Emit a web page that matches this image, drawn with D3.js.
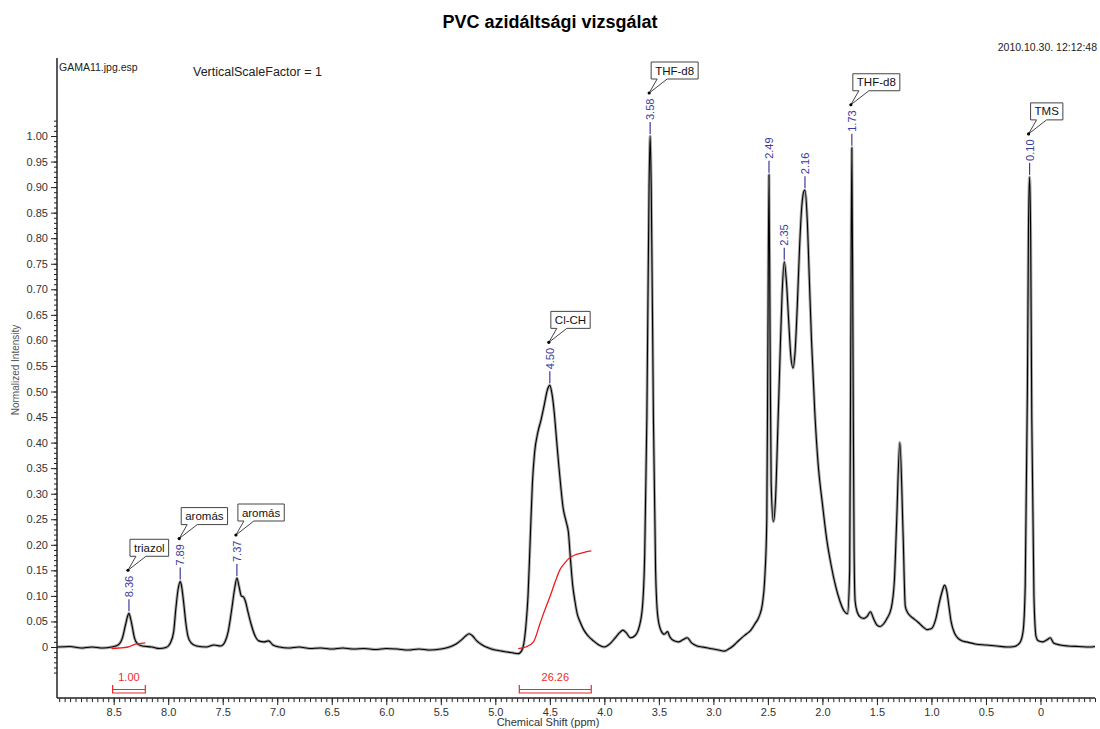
<!DOCTYPE html>
<html>
<head>
<meta charset="utf-8">
<script src="https://cdn.jsdelivr.net/npm/d3@7"></script>
<style>
body { margin: 0; background: #fff; }
svg { font-family: "Liberation Sans", Arial, sans-serif; }
</style>
</head>
<body>
<script>
const width = 1100;
const height = 729;

// spectrum (ppm, normalized intensity)
const shiftPpm = [9.02, 8.90, 8.80, 8.70, 8.60, 8.52, 8.46, 8.42, 8.39, 8.37, 8.36, 8.35, 8.33, 8.31, 8.28, 8.24, 8.15, 8.08, 8.02,
    7.98, 7.95, 7.93, 7.91, 7.89, 7.88, 7.86, 7.84, 7.82, 7.79, 7.74, 7.65, 7.58, 7.52, 7.48, 7.45, 7.42, 7.39, 7.37, 7.35, 7.33,
    7.31, 7.29, 7.27, 7.24, 7.21, 7.17, 7.12, 7.08, 7.04, 6.98, 6.90, 6.80, 6.70, 6.60, 6.50, 6.40, 6.30, 6.20, 6.10, 6.00,
    5.90, 5.80, 5.70, 5.60, 5.50, 5.42, 5.36, 5.31, 5.27, 5.24, 5.21, 5.17, 5.12, 5.06, 5.00, 4.94, 4.88, 4.83, 4.79, 4.76,
    4.74, 4.72, 4.70, 4.68, 4.66, 4.64, 4.61, 4.58, 4.55, 4.52, 4.50, 4.48, 4.46, 4.44, 4.42, 4.40, 4.38, 4.35, 4.33, 4.31,
    4.29, 4.27, 4.25, 4.22, 4.19, 4.15, 4.10, 4.05, 4.00, 3.95, 3.90, 3.86, 3.83, 3.80, 3.76, 3.72, 3.68, 3.65, 3.63, 3.61,
    3.59, 3.58, 3.57, 3.55, 3.53, 3.51, 3.48, 3.45, 3.42, 3.40, 3.36, 3.32, 3.28, 3.24, 3.20, 3.15, 3.10, 3.05, 3.00, 2.95,
    2.90, 2.86, 2.82, 2.78, 2.74, 2.70, 2.66, 2.62, 2.58, 2.55, 2.53, 2.51, 2.50, 2.49, 2.48, 2.47, 2.45, 2.43, 2.41, 2.39,
    2.37, 2.35, 2.33, 2.31, 2.29, 2.27, 2.25, 2.23, 2.21, 2.19, 2.17, 2.16, 2.14, 2.12, 2.10, 2.07, 2.04, 2.00, 1.96, 1.92,
    1.88, 1.84, 1.80, 1.77, 1.75, 1.74, 1.73, 1.72, 1.71, 1.70, 1.68, 1.65, 1.62, 1.59, 1.56, 1.53, 1.50, 1.47, 1.44, 1.41,
    1.37, 1.34, 1.32, 1.29, 1.26, 1.24, 1.22, 1.19, 1.16, 1.12, 1.08, 1.04, 1.00, 0.96, 0.93, 0.90, 0.88, 0.86, 0.84, 0.82,
    0.79, 0.76, 0.72, 0.68, 0.60, 0.50, 0.40, 0.30, 0.24, 0.19, 0.16, 0.14, 0.12, 0.11, 0.10, 0.09, 0.08, 0.06, 0.04, 0.02,
    -0.02, -0.06, -0.09, -0.12, -0.18, -0.25, -0.35, -0.45, -0.50];
const intensity = [0.000, 0.001, -0.002, 0.000, -0.002, 0.000, 0.004, 0.018, 0.045, 0.062, 0.066, 0.060, 0.040, 0.018, 0.006, 0.002, 0.000, -0.003, -0.001,
    0.008, 0.030, 0.075, 0.112, 0.128, 0.122, 0.090, 0.050, 0.022, 0.008, 0.002, 0.000, 0.004, 0.002, 0.010, 0.030, 0.070, 0.115, 0.135, 0.118, 0.100,
    0.098, 0.088, 0.070, 0.045, 0.025, 0.012, 0.010, 0.012, 0.004, 0.000, -0.002, 0.000, -0.003, -0.002, -0.004, -0.002, -0.004, -0.003, -0.005, -0.003,
    -0.004, -0.006, -0.004, -0.006, -0.004, 0.000, 0.006, 0.014, 0.022, 0.026, 0.022, 0.012, 0.004, -0.002, -0.006, -0.008, -0.010, -0.012, -0.013, -0.008,
    0.005, 0.040, 0.100, 0.210, 0.320, 0.380, 0.420, 0.445, 0.475, 0.505, 0.512, 0.495, 0.460, 0.410, 0.360, 0.315, 0.275, 0.245, 0.225, 0.170,
    0.120, 0.090, 0.066, 0.048, 0.034, 0.022, 0.012, 0.004, 0.000, 0.006, 0.018, 0.028, 0.033, 0.028, 0.018, 0.022, 0.040, 0.080, 0.180, 0.450,
    0.900, 1.000, 0.900, 0.450, 0.150, 0.060, 0.032, 0.025, 0.030, 0.020, 0.012, 0.010, 0.014, 0.018, 0.008, 0.002, 0.000, -0.002, -0.004, -0.006,
    -0.008, -0.004, 0.002, 0.010, 0.018, 0.025, 0.032, 0.045, 0.060, 0.085, 0.130, 0.250, 0.600, 0.924, 0.600, 0.320, 0.245, 0.290, 0.420, 0.560,
    0.690, 0.754, 0.715, 0.640, 0.570, 0.546, 0.580, 0.670, 0.780, 0.860, 0.892, 0.894, 0.840, 0.720, 0.600, 0.460, 0.360, 0.280, 0.210, 0.160,
    0.120, 0.090, 0.070, 0.065, 0.150, 0.600, 0.977, 0.600, 0.200, 0.090, 0.068, 0.058, 0.056, 0.060, 0.069, 0.055, 0.043, 0.040, 0.045, 0.055,
    0.075, 0.130, 0.240, 0.400, 0.220, 0.080, 0.068, 0.060, 0.055, 0.048, 0.040, 0.034, 0.036, 0.055, 0.085, 0.110, 0.121, 0.110, 0.080, 0.050,
    0.028, 0.018, 0.012, 0.010, 0.006, 0.004, 0.002, 0.000, 0.001, 0.008, 0.030, 0.120, 0.500, 0.820, 0.920, 0.800, 0.450, 0.100, 0.020, 0.012,
    0.010, 0.014, 0.018, 0.008, 0.004, 0.002, 0.001, 0.000, 0.001];

// integral curves (red)
const integral1Ppm = [8.52, 8.45, 8.37, 8.33, 8.29, 8.25, 8.21];
const integral1Val = [-0.003, -0.002, 0.000, 0.003, 0.006, 0.007, 0.008];
const integral2Ppm = [4.79, 4.72, 4.65, 4.59, 4.55, 4.50, 4.45, 4.41, 4.36, 4.32, 4.27, 4.22, 4.17, 4.12];
const integral2Val = [-0.003, 0.000, 0.010, 0.046, 0.070, 0.098, 0.128, 0.150, 0.165, 0.174, 0.180, 0.183, 0.186, 0.188];

const integralFrom = [8.51, 4.78];
const integralTo = [8.21, 4.12];
const integralLabels = ["1.00", "26.26"];

// picked peaks and annotations
const peakShifts = [8.36, 7.89, 7.37, 4.50, 3.58, 2.49, 2.35, 2.16, 1.73, 0.10];
const calloutShifts = [8.36, 7.89, 7.37, 4.50, 3.58, 1.73, 0.10];
const calloutNames = ["triazol", "aromás", "aromás", "Cl-CH", "THF-d8", "THF-d8", "TMS"];

const yMajorTicks = d3.range(0, 21).map(i => i / 20);
const yMinorTicks = d3.range(-5, 104).map(i => i / 100);
const xMajorTicks = d3.range(0, 18).map(i => i / 2);
const xMinorTicks = d3.range(-10, 181).map(i => i / 20);

const x = d3.scaleLinear().domain([9.02, -0.5]).range([57, 1095]);
const y = d3.scaleLinear().domain([0, 1]).range([647, 136]);

const svg = d3.select("body").append("svg")
    .attr("width", width)
    .attr("height", height);

// header texts
svg.append("text").attr("x", 550).attr("y", 28)
    .attr("text-anchor", "middle").attr("font-size", 18).attr("font-weight", "bold")
    .text("PVC azidáltsági vizsgálat");
svg.append("text").attr("x", 1097).attr("y", 51)
    .attr("text-anchor", "end").attr("font-size", 10.5).attr("fill", "#222")
    .text("2010.10.30. 12:12:48");
svg.append("text").attr("x", 59).attr("y", 71)
    .attr("font-size", 10.5).attr("fill", "#222")
    .text("GAMA11.jpg.esp");
svg.append("text").attr("x", 193).attr("y", 76)
    .attr("font-size", 12.5).attr("fill", "#222")
    .text("VerticalScaleFactor = 1");

// axes
const yAxisG = svg.append("g").attr("transform", "translate(57,0)");
yAxisG.call(d3.axisLeft(y).tickValues(yMinorTicks).tickSize(3).tickFormat(""))
    .call(g => g.select(".domain").remove());
yAxisG.append("g")
    .call(d3.axisLeft(y).tickValues(yMajorTicks).tickSize(6).tickPadding(3)
        .tickFormat(d => d === 0 ? "0" : d3.format(".2f")(d)))
    .call(g => g.select(".domain").remove());
yAxisG.selectAll("text").attr("font-size", 11).attr("fill", "#333")
    .attr("font-family", "Liberation Sans, Arial, sans-serif");
yAxisG.selectAll("line").attr("stroke", "#222");
svg.append("line").attr("x1", 57).attr("x2", 57).attr("y1", 58).attr("y2", y(-0.1))
    .attr("stroke", "#222").attr("stroke-width", 1.5);

const xAxisG = svg.append("g").attr("transform", `translate(0,${y(-0.1)})`);
xAxisG.call(d3.axisBottom(x).tickValues(xMinorTicks).tickSize(4).tickFormat(""))
    .call(g => g.select(".domain").remove());
xAxisG.append("g")
    .call(d3.axisBottom(x).tickValues(xMajorTicks).tickSize(7).tickPadding(3)
        .tickFormat(d => d === 0 ? "0" : d3.format(".1f")(d)))
    .call(g => g.select(".domain").remove());
xAxisG.selectAll("text").attr("font-size", 11).attr("fill", "#333")
    .attr("font-family", "Liberation Sans, Arial, sans-serif");
xAxisG.selectAll("line").attr("stroke", "#222");
svg.append("line").attr("x1", 57).attr("x2", 1095).attr("y1", y(-0.1)).attr("y2", y(-0.1))
    .attr("stroke", "#222").attr("stroke-width", 1.5);

svg.append("text").attr("x", 548).attr("y", 726)
    .attr("text-anchor", "middle").attr("font-size", 11).attr("fill", "#333")
    .text("Chemical Shift (ppm)");
svg.append("text").attr("transform", "translate(19,370) rotate(-90)")
    .attr("text-anchor", "middle").attr("font-size", 10).attr("fill", "#555")
    .text("Normalized Intensity");

// spectrum
const spectrum = shiftPpm.map((p, i) => ({ p, v: intensity[i] }));
const line = d3.line().x(d => x(d.p)).y(d => y(d.v)).curve(d3.curveMonotoneX);

svg.append("path").datum(spectrum)
    .attr("d", line).attr("fill", "none")
    .attr("stroke", "#444").attr("stroke-width", 3).attr("stroke-opacity", 0.45)
    .attr("stroke-linejoin", "round");
svg.append("path").datum(spectrum)
    .attr("d", line).attr("fill", "none")
    .attr("stroke", "#000").attr("stroke-width", 1.1)
    .attr("stroke-linejoin", "round");

// integrals
[[integral1Ppm, integral1Val], [integral2Ppm, integral2Val]].forEach(([ps, vs]) => {
    svg.append("path").datum(ps.map((p, i) => ({ p, v: vs[i] })))
        .attr("d", line).attr("fill", "none")
        .attr("stroke", "#ee1c1c").attr("stroke-width", 1.3);
});

const red = "#ee2a2a";
integralFrom.forEach((from, i) => {
    const x1 = x(from), x2 = x(integralTo[i]);
    svg.append("path")
        .attr("d", `M${x1},685 V693 H${x2} V685 M${x1},689.5 H${x2}`)
        .attr("fill", "none").attr("stroke", red).attr("stroke-width", 1.2);
    svg.append("text").attr("x", (x1 + x2) / 2).attr("y", 681)
        .attr("text-anchor", "middle").attr("font-size", 11).attr("fill", red)
        .text(integralLabels[i]);
});

// peak labels
const heightAt = p => intensity[shiftPpm.indexOf(p)];
const blue = "#3a3a9e";
peakShifts.forEach(p => {
    const px = x(p), py = y(heightAt(p));
    svg.append("line").attr("x1", px).attr("x2", px)
        .attr("y1", py - 2).attr("y2", py - 14)
        .attr("stroke", blue).attr("stroke-width", 1.2);
    svg.append("text").attr("transform", `translate(${px},${py - 16}) rotate(-90)`)
        .attr("dy", "0.36em").attr("font-size", 11).attr("fill", blue)
        .text(p.toFixed(2));
});

// callout boxes
calloutShifts.forEach((p, i) => {
    const tx = x(p) - 1, ty = y(heightAt(p)) - 43;
    const left = tx + 2, bottom = ty - 14, top = bottom - 17;
    const label = svg.append("text").attr("x", left + 4).attr("y", bottom - 4.5)
        .attr("font-size", 11.5).attr("fill", "#111")
        .text(calloutNames[i]);
    const w = label.node().getComputedTextLength() + 8;
    svg.insert("path", () => label.node())
        .attr("d", `M${left},${top} H${left + w} V${bottom} H${left + 16} L${tx},${ty} L${left + 6},${bottom} H${left} Z`)
        .attr("fill", "#fff").attr("stroke", "#444").attr("stroke-width", 1);
    svg.append("circle").attr("cx", tx).attr("cy", ty).attr("r", 1.6).attr("fill", "#000");
});
</script>
</body>
</html>
